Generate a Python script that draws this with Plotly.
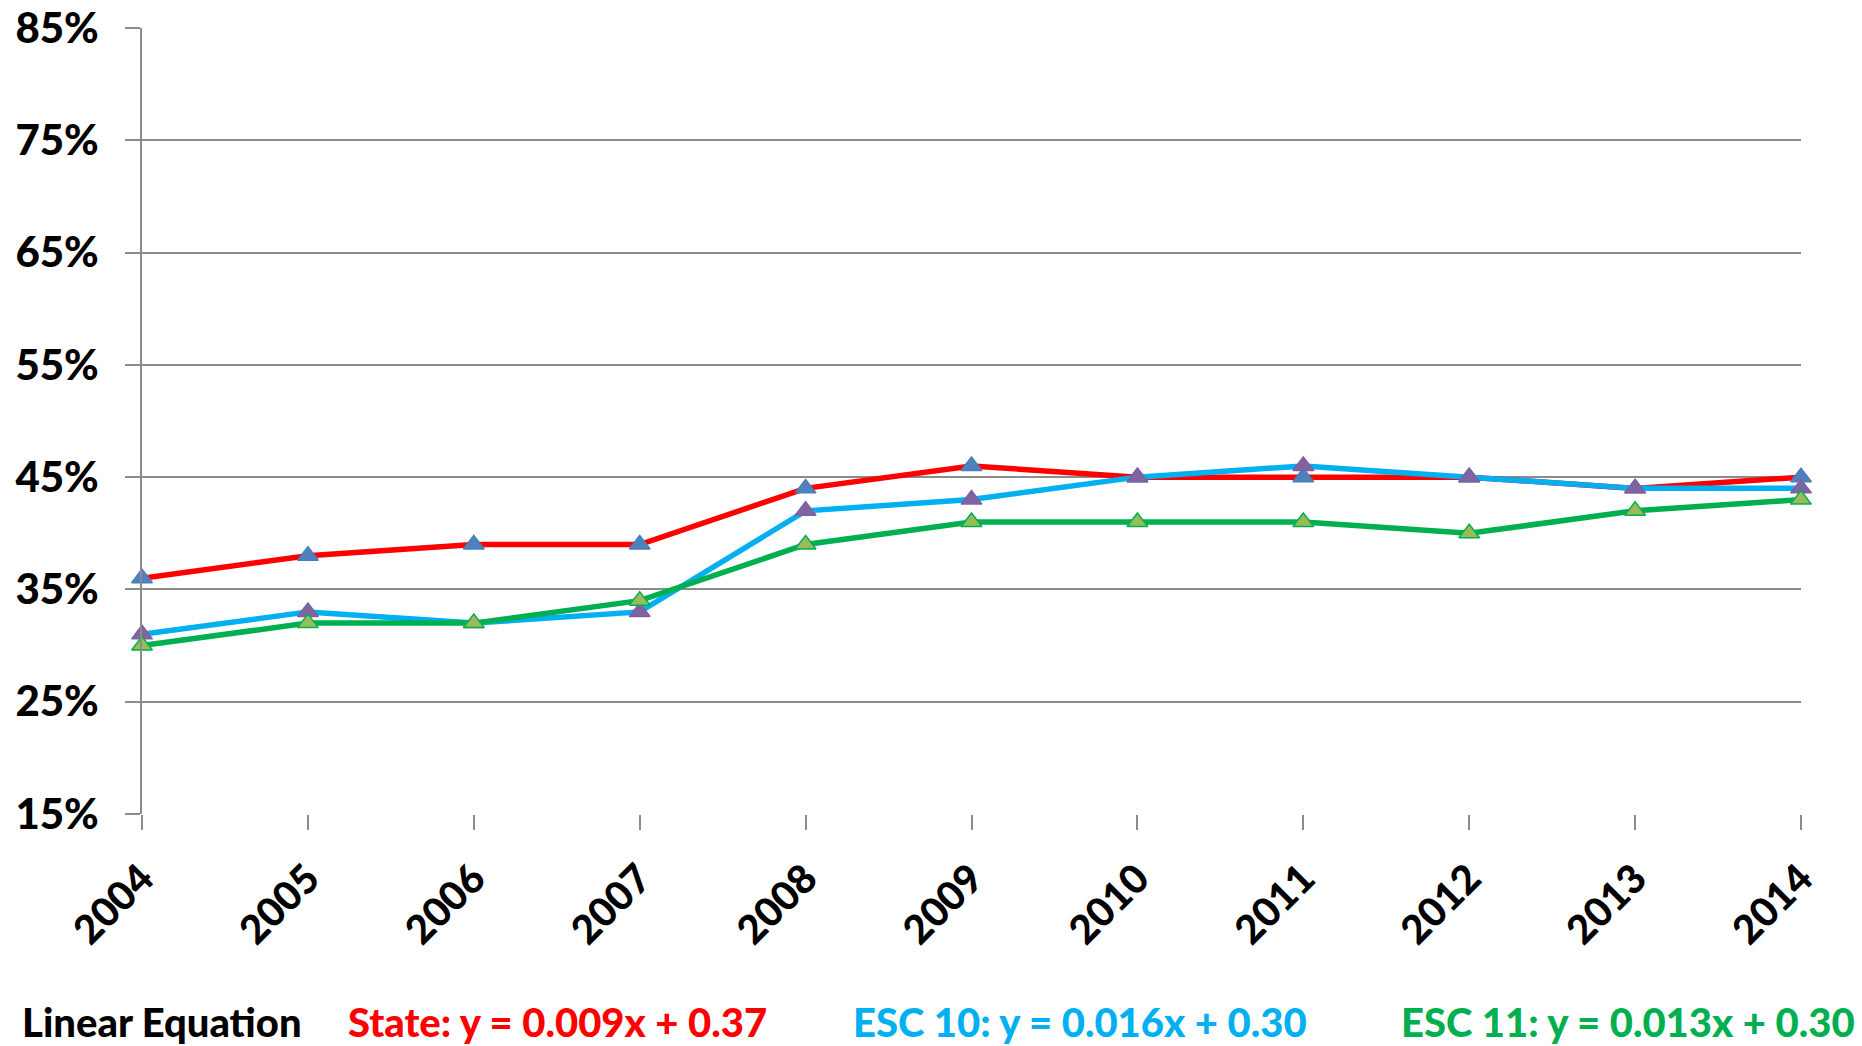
import plotly.graph_objects as go

years = [2004, 2005, 2006, 2007, 2008, 2009, 2010, 2011, 2012, 2013, 2014]
state = [0.36, 0.38, 0.39, 0.39, 0.44, 0.46, 0.45, 0.45, 0.45, 0.44, 0.45]
esc10 = [0.31, 0.33, 0.32, 0.33, 0.42, 0.43, 0.45, 0.46, 0.45, 0.44, 0.44]
esc11 = [0.30, 0.32, 0.32, 0.34, 0.39, 0.41, 0.41, 0.41, 0.40, 0.42, 0.43]

y_ticks = [0.15, 0.25, 0.35, 0.45, 0.55, 0.65, 0.75, 0.85]
y_labels = ["15%", "25%", "35%", "45%", "55%", "65%", "75%", "85%"]

equations = [
    ("Linear Equation", "#000000"),
    ("State: y = 0.009x + 0.37", "#FF0000"),
    ("ESC 10: y = 0.016x + 0.30", "#00B0F0"),
    ("ESC 11: y = 0.013x + 0.30", "#00B050"),
]
eq_centers = [0.0118, 0.2505, 0.5656, 0.896]

FONT = "Lato"
GRID = "#8C8C8C"

series = [
    (state, "#FF0000", "#4F81BD", "#4A7EBB"),
    (esc10, "#00B0F0", "#8064A2", "#7D60A0"),
    (esc11, "#00B050", "#9BBB59", "#00B050"),
]

fig = go.Figure()
for vals, line_col, mk_col, mk_line in series:
    fig.add_trace(go.Scatter(
        x=years, y=vals, mode="lines+markers",
        line=dict(color=line_col, width=5.5),
        marker=dict(symbol="triangle-up", size=18, color=mk_col,
                    line=dict(color=mk_line, width=1.5)),
        cliponaxis=False, showlegend=False,
    ))

for (txt, col), xc in zip(equations, eq_centers):
    fig.add_annotation(
        text=txt, x=xc, y=-0.265, xref="paper", yref="paper",
        xanchor="center", yanchor="middle", showarrow=False,
        font=dict(family=FONT, size=40, color=col, weight=900),
    )

fig.update_xaxes(
    range=[2004, 2014], tickvals=years, ticktext=[str(y) for y in years],
    tickangle=-45, ticks="outside", ticklen=15, tickcolor=GRID, tickwidth=1.5,
    showgrid=False, zeroline=False, showline=False, automargin=False,
    tickfont=dict(family=FONT, size=40, color="#000000", weight=900),
    ticklabelstandoff=9,
)
fig.update_yaxes(
    range=[0.15, 0.85], tickvals=y_ticks, ticktext=y_labels,
    ticks="outside", ticklen=15, tickcolor=GRID, tickwidth=1.5,
    showgrid=True, gridcolor=GRID, gridwidth=1.5, zeroline=False,
    showline=True, linecolor=GRID, linewidth=1.5, automargin=False,
    tickfont=dict(family=FONT, size=42, color="#000000", weight=900),
    ticklabelstandoff=18,
)
fig.update_layout(
    width=1862, height=1046,
    margin=dict(l=142, r=61, t=28, b=232),
    plot_bgcolor="white", paper_bgcolor="white",
)
fig.write_html("out.html")
